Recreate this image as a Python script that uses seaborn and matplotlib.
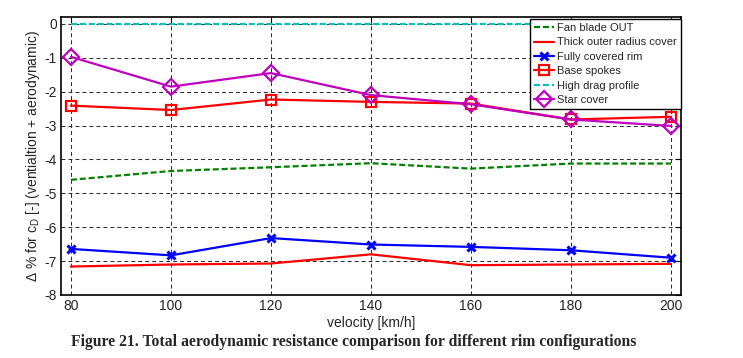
import numpy as np
import pandas as pd
import matplotlib
matplotlib.use('Agg')
import matplotlib.pyplot as plt
import seaborn as sns

# velocity steps [km/h]
velocity = [80, 100, 120, 140, 160, 180, 200]

# delta % for cD per rim configuration
fan_blade_out = [-4.60, -4.34, -4.23, -4.11, -4.27, -4.12, -4.12]
thick_outer_radius = [-7.16, -7.10, -7.07, -6.80, -7.12, -7.10, -7.08]
fully_covered_rim = [-6.64, -6.83, -6.32, -6.51, -6.58, -6.68, -6.90]
base_spokes = [-2.41, -2.54, -2.23, -2.30, -2.35, -2.82, -2.74]
high_drag_profile = [0, 0, 0, 0, 0, 0, 0]
star_cover = [-0.97, -1.85, -1.45, -2.10, -2.37, -2.82, -3.01]

yticks = [0, -1, -2, -3, -4, -5, -6, -7, -8]

caption = 'Figure 21. Total aerodynamic resistance comparison for different rim configurations'


def make_plot():
    sns.set_style('white')
    plt.rcParams['font.family'] = ['Liberation Sans', 'DejaVu Sans']
    plt.rcParams['mathtext.fontset'] = 'custom'
    plt.rcParams['mathtext.rm'] = 'Liberation Sans'
    plt.rcParams['axes.unicode_minus'] = False

    fig, ax = plt.subplots(figsize=(7.43, 3.58), dpi=100)
    fig.subplots_adjust(left=0.082, right=0.9166, bottom=0.176, top=0.952)

    lw = 1.6
    sns.lineplot(x=velocity, y=fan_blade_out, ax=ax, color='#008000', lw=lw,
                 label='Fan blade OUT')
    ax.lines[-1].set_dashes((2.7, 1.3))
    sns.lineplot(x=velocity, y=thick_outer_radius, ax=ax, color='#ff0000', lw=lw,
                 label='Thick outer radius cover')
    sns.lineplot(x=velocity, y=fully_covered_rim, ax=ax, color='#0000ff', lw=lw,
                 marker='x', markersize=6, markeredgewidth=2.2,
                 markeredgecolor='#0000ff', label='Fully covered rim')
    sns.lineplot(x=velocity, y=base_spokes, ax=ax, color='#ff0000', lw=lw,
                 marker='s', markersize=7, markerfacecolor='none',
                 markeredgecolor='#ff0000', markeredgewidth=1.6,
                 label='Base spokes')
    sns.lineplot(x=velocity, y=high_drag_profile, ax=ax, color='#00bfbf', lw=lw,
                 label='High drag profile')
    ax.lines[-1].set_dashes((2.7, 1.3))
    sns.lineplot(x=velocity, y=star_cover, ax=ax, color='#bf00bf', lw=lw,
                 marker='D', markersize=8, markerfacecolor='none',
                 markeredgecolor='#bf00bf', markeredgewidth=1.6,
                 label='Star cover')

    ax.set_xlim(78, 202)
    ax.set_ylim(-8, 0.2)
    ax.set_xticks(velocity)
    ax.set_yticks(yticks)
    ax.tick_params(direction='in', top=True, right=True, length=4,
                   labelsize=10, color='black', pad=3)
    ax.grid(True, linestyle=(0, (3.8, 2.9)), color='#303030', linewidth=0.75)
    ax.set_axisbelow(True)
    for sp in ax.spines.values():
        sp.set_color('black')
        sp.set_linewidth(1.2)

    ax.set_xlabel('velocity [km/h]', fontsize=10, labelpad=2)
    ax.set_ylabel(r'Δ % for c$_\mathregular{D}$ [-] (ventialtion + aerodynamic)', fontsize=10)
    ax.yaxis.set_label_coords(-0.030, 0.5)

    leg = ax.legend(loc='upper right', bbox_to_anchor=(1.0, 0.993), fontsize=8,
                    frameon=True, fancybox=False, edgecolor='black', framealpha=1,
                    borderpad=0.35, labelspacing=0.4, handletextpad=0.3,
                    handlelength=1.8, borderaxespad=0)
    leg.get_frame().set_linewidth(1.0)

    fig.text(0.476, 0.045, caption, ha='center', va='center', fontsize=11.3,
             fontweight='bold', family=['Liberation Serif', 'DejaVu Serif'])

    plt.savefig('out.png', dpi=100)


if __name__ == "__main__":
    make_plot()
